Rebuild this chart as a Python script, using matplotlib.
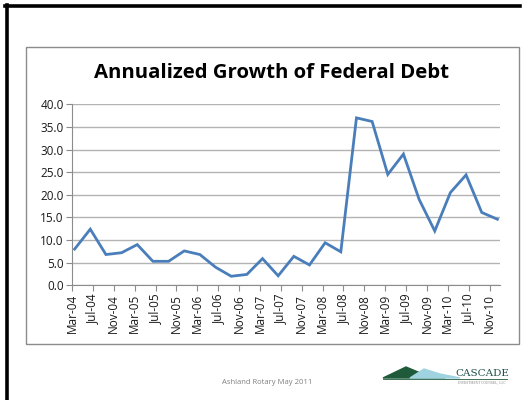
import matplotlib
matplotlib.use("Agg")
import matplotlib.pyplot as plt
from matplotlib.patches import Rectangle, Polygon
from matplotlib.lines import Line2D
import numpy as np

# quarterly growth figures, Mar-04 .. Dec-10
growth = [8.0, 12.4, 6.8, 7.2, 9.0, 5.3, 5.3, 7.6, 6.8, 4.0, 2.0, 2.4, 5.9, 2.1,
          6.4, 4.5, 9.4, 7.4, 37.0, 36.2, 24.5, 29.0, 19.0, 12.0, 20.5, 24.4, 16.1, 14.6]
tick_labels = ["Mar-04", "Jul-04", "Nov-04", "Mar-05", "Jul-05", "Nov-05", "Mar-06",
               "Jul-06", "Nov-06", "Mar-07", "Jul-07", "Nov-07", "Mar-08", "Jul-08",
               "Nov-08", "Mar-09", "Jul-09", "Nov-09", "Mar-10", "Jul-10", "Nov-10"]
y_ticks = [0, 5, 10, 15, 20, 25, 30, 35, 40]

W, H = 529, 400
FONT = "Open Sans"


def fx(px):
    return px / W


def fy(py):
    return 1 - py / H


def main():
    fig = plt.figure(figsize=(W / 100, H / 100), dpi=100)
    fig.patch.set_facecolor("white")

    # slide frame (top and left edges only visible)
    fig.add_artist(Line2D([fx(5), fx(520)], [fy(5.5), fy(5.5)], color="black", lw=2.6))
    fig.add_artist(Line2D([fx(6.5), fx(6.5)], [fy(5), 0], color="black", lw=2.6))

    # chart box
    fig.add_artist(Rectangle((fx(26), fy(344)), fx(519) - fx(26), fy(47) - fy(344),
                             transform=fig.transFigure, fill=False,
                             edgecolor="#8c8c8c", lw=1.0))

    ax = fig.add_axes([fx(72), fy(285.3), fx(500) - fx(72), fy(104.3) - fy(285.3)])
    # months since Mar-04, points centred in each quarter-end month slot
    x = np.arange(len(growth)) * 3 + 0.5
    ax.plot(x, growth, color="#4a7ebb", lw=2.0, solid_joinstyle="miter")

    ax.set_xlim(0, 82)
    ax.set_ylim(0, 40)
    ax.set_yticks(y_ticks)
    ax.set_yticklabels([f"{v:.1f}" for v in y_ticks], fontsize=8.5, family=FONT)
    ax.set_xticks(np.arange(len(tick_labels)) * 4)
    ax.set_xticklabels(tick_labels, rotation=90, fontsize=8.5, family=FONT)
    ax.grid(axis="y", color="#b3b3b3", lw=1.0)
    ax.set_axisbelow(True)
    for side in ("top", "right"):
        ax.spines[side].set_visible(False)
    for side in ("left", "bottom"):
        ax.spines[side].set_color("#8c8c8c")
    ax.tick_params(axis="both", colors="#8c8c8c", length=4, direction="out", pad=2)
    for lab in ax.get_yticklabels() + ax.get_xticklabels():
        lab.set_color("#1a1a1a")

    fig.text(fx(271), fy(73), "Annualized Growth of Federal Debt", ha="center",
             va="center", fontsize=14.7, fontweight="bold", family=FONT)

    fig.text(fx(267), fy(382), "Ashland Rotary May 2011", ha="center", va="center",
             fontsize=5.5, color="#808080", family=FONT)

    # logo
    fig.add_artist(Polygon([(fx(383), fy(378)), (fx(406), fy(367)), (fx(418), fy(372)),
                            (fx(445), fy(378))], closed=True, color="#1f5a3a",
                           transform=fig.transFigure))
    fig.add_artist(Polygon([(fx(410), fy(378)), (fx(424), fy(369)), (fx(440), fy(374)),
                            (fx(460), fy(378))], closed=True, color="#9fd3e0",
                           transform=fig.transFigure))
    fig.add_artist(Line2D([fx(383), fx(507)], [fy(378.5), fy(378.5)], color="#1f5a3a",
                          lw=0.6))
    fig.text(fx(482), fy(376), "CASCADE", ha="center", va="baseline", fontsize=7.5,
             color="#1f4f4a", family="DejaVu Serif")
    fig.text(fx(482), fy(382), "INVESTMENT COUNSEL, LLC", ha="center", va="center",
             fontsize=2.2, color="#808080", family="DejaVu Serif")

    fig.savefig("out.png", dpi=100)


if __name__ == "__main__":
    main()
